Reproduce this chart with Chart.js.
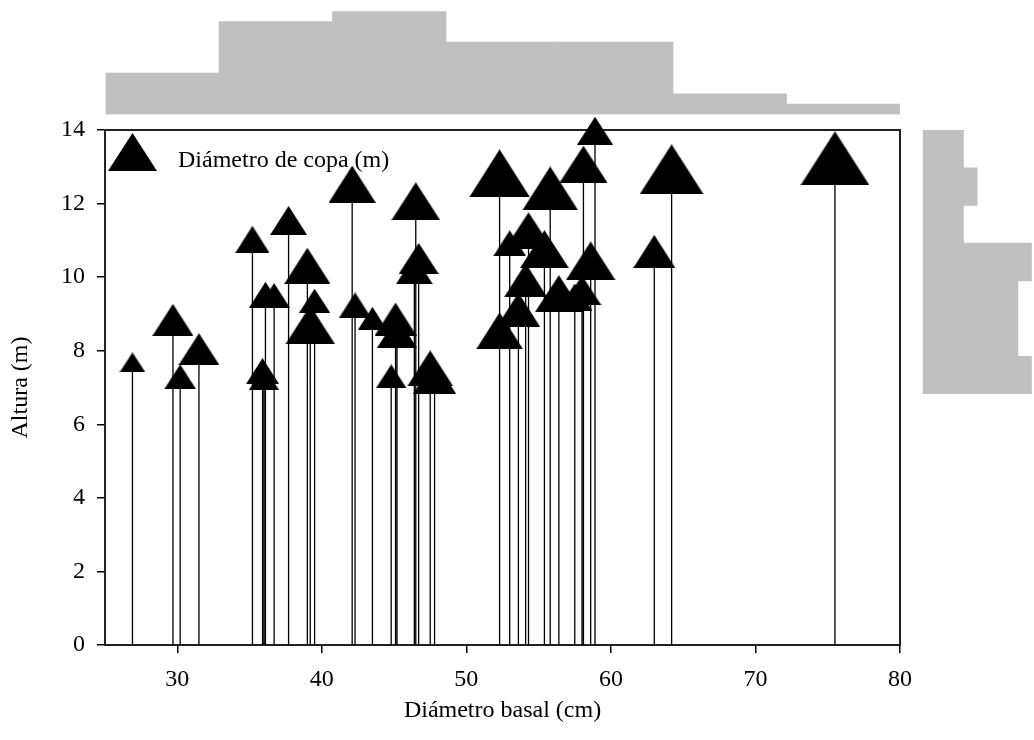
<!DOCTYPE html>
<html>
<head>
<meta charset="utf-8">
<script src="https://cdn.jsdelivr.net/npm/chart.js@4.4.1/dist/chart.umd.min.js"></script>
<style>
  html, body { margin: 0; padding: 0; background: #fff; overflow: hidden; }
  #wrap { position: relative; width: 1034px; height: 740px; overflow: hidden; }
  canvas { position: absolute; top: 0; }
  #topHist { left: 0; }
  #rightHist { left: 900px; }
  #main { left: 0; }
</style>
</head>
<body>
<div id="wrap">
  <canvas id="topHist" width="1034" height="130"></canvas>
  <canvas id="rightHist" width="160" height="740"></canvas>
  <canvas id="main" width="1034" height="740"></canvas>
</div>
<script>
// Diámetro basal (cm), altura (m) y diámetro de copa (m) por árbol
const diamBasal = [26.9, 29.7, 30.2, 31.5, 35.2, 35.9, 36.0, 36.1, 36.7, 37.7,
    39.0, 39.2, 39.5, 42.1, 42.3, 43.5, 44.8, 45.1, 45.2, 46.4,
    46.5, 46.7, 47.5, 47.8, 52.3, 52.3, 53.0, 53.6, 54.1, 54.3,
    55.4, 55.8, 56.4, 57.5, 58.0, 58.1, 58.6, 58.9, 63.0, 64.2, 75.5];
const altura = [7.68, 8.84, 7.29, 8.04, 11.03, 7.45, 7.25, 9.52, 9.50, 11.54,
    10.31, 8.70, 9.36, 12.53, 9.23, 8.88, 7.30, 8.86, 8.50, 10.20,
    12.06, 10.51, 7.52, 7.29, 8.54, 12.82, 10.92, 9.12, 9.92, 11.26,
    10.76, 12.41, 9.55, 9.46, 9.64, 13.07, 10.44, 13.98, 10.70, 12.93, 13.23];
const copa = [2.6, 4.1, 3.2, 4.1, 3.4, 3.3, 3.0, 3.3, 3.2, 3.7,
    4.6, 5.0, 3.1, 4.7, 3.3, 2.9, 3.1, 4.2, 4.0, 3.7,
    4.9, 4.0, 4.6, 4.3, 4.7, 6.1, 3.3, 4.3, 4.3, 4.8,
    4.9, 5.6, 4.8, 3.5, 3.9, 4.8, 5.0, 3.6, 4.2, 6.4, 6.9];

// histogramas marginales (frecuencias)
const xBins = ['25-33', '33-41', '41-49', '49-56', '56-64', '64-72', '72-80'];
const xBinCounts = [4, 9, 10, 7, 7, 2, 1];
const yBins = ['13-14', '12-13', '11-12', '10-11', '9-10', '8-9', '7-8'];
const yBinCounts = [3, 4, 3, 8, 7, 7, 8];

const xTicks = [30, 40, 50, 60, 70, 80];
const yTicks = [0, 2, 4, 6, 8, 10, 12, 14];

const serif = 'Liberation Serif, Times New Roman, serif';
const histColor = '#c0c0c0';

function triangleImage(w) {
    const c = document.createElement('canvas');
    c.width = Math.round(w);
    c.height = Math.round(w * 0.78);
    const g = c.getContext('2d');
    g.fillStyle = '#000';
    g.beginPath();
    g.moveTo(c.width / 2, 0);
    g.lineTo(c.width, c.height);
    g.lineTo(0, c.height);
    g.closePath();
    g.fill();
    return c;
}

// 1 m de copa ~ 10 px de símbolo
const symbols = copa.map(c => triangleImage(c * 10));
const legendSymbol = triangleImage(49);

const points = diamBasal.map((x, i) => ({ x: x, y: altura[i] }));
// líneas verticales desde 0 hasta cada punto
const stems = [];
diamBasal.forEach((x, i) => {
    stems.push({ x: x, y: 0 }, { x: x, y: altura[i] }, { x: x, y: null });
});

new Chart('topHist', {
    type: 'bar',
    data: {
        labels: xBins,
        datasets: [{
            data: xBinCounts,
            backgroundColor: histColor,
            borderWidth: 0,
            categoryPercentage: 1,
            barPercentage: 1,
        }],
    },
    options: {
        responsive: false,
        animation: false,
        layout: { padding: { left: 105.5, right: 134, top: 11.2, bottom: 15.5 } },
        scales: {
            x: { display: false },
            y: { display: false, min: 0, max: 10 },
        },
        plugins: { legend: { display: false }, tooltip: { enabled: false } },
    },
});

new Chart('rightHist', {
    type: 'bar',
    data: {
        labels: yBins,
        datasets: [{
            data: yBinCounts,
            backgroundColor: histColor,
            borderWidth: 0,
            categoryPercentage: 1,
            barPercentage: 1,
        }],
    },
    options: {
        indexAxis: 'y',
        responsive: false,
        animation: false,
        layout: { padding: { left: 22.7, right: 1.3, top: 130, bottom: 346 } },
        scales: {
            x: { display: false, min: 0, max: 10 },
            y: { display: false },
        },
        plugins: { legend: { display: false }, tooltip: { enabled: false } },
    },
});

const framePlugin = {
    id: 'frame',
    beforeDatasetsDraw(chart) {
        const { ctx, chartArea: a } = chart;
        ctx.save();
        ctx.strokeStyle = '#222';
        ctx.lineWidth = 2;
        ctx.strokeRect(a.left, a.top, a.right - a.left, a.bottom - a.top);
        ctx.restore();
    },
};

const legendPlugin = {
    id: 'copaLegend',
    afterDraw(chart) {
        const { ctx, chartArea: a } = chart;
        ctx.save();
        ctx.drawImage(legendSymbol, a.left + 3, a.top + 3);
        ctx.fillStyle = '#000';
        ctx.font = '24px ' + serif;
        ctx.textBaseline = 'alphabetic';
        ctx.fillText('Diámetro de copa (m)', a.left + 73, a.top + 37);
        ctx.restore();
    },
};

const tickFont = { family: serif, size: 24 };

new Chart('main', {
    type: 'scatter',
    data: {
        datasets: [{
            data: points,
            pointStyle: ctx => symbols[ctx.dataIndex],
            clip: false,
        }, {
            data: stems,
            showLine: true,
            spanGaps: false,
            borderColor: '#000',
            borderWidth: 1.3,
            pointRadius: 0,
        }],
    },
    options: {
        responsive: false,
        animation: false,
        layout: { padding: { left: 0, top: 130, right: 134, bottom: 0 } },
        scales: {
            x: {
                type: 'linear',
                min: 25,
                max: 80,
                afterBuildTicks: s => { s.ticks = xTicks.map(v => ({ value: v })); },
                afterFit: s => { s.height = 95; },
                grid: { drawOnChartArea: false, tickLength: 8, color: '#000', lineWidth: 1.5 },
                border: { color: '#000', width: 2 },
                ticks: { color: '#000', font: tickFont, padding: 12, maxRotation: 0 },
                title: {
                    display: true, text: 'Diámetro basal (cm)', color: '#000',
                    font: tickFont, padding: { bottom: 15 },
                },
            },
            y: {
                type: 'linear',
                min: 0,
                max: 14,
                afterBuildTicks: s => { s.ticks = yTicks.map(v => ({ value: v })); },
                afterFit: s => { s.width = 105; },
                grid: { drawOnChartArea: false, tickLength: 8, color: '#000', lineWidth: 1.5 },
                border: { color: '#000', width: 2 },
                ticks: { color: '#000', font: tickFont, padding: 12 },
                title: {
                    display: true, text: 'Altura (m)', color: '#000',
                    font: tickFont, padding: { top: 6 },
                },
            },
        },
        plugins: { legend: { display: false }, tooltip: { enabled: false } },
    },
    plugins: [framePlugin, legendPlugin],
});
</script>
</body>
</html>
